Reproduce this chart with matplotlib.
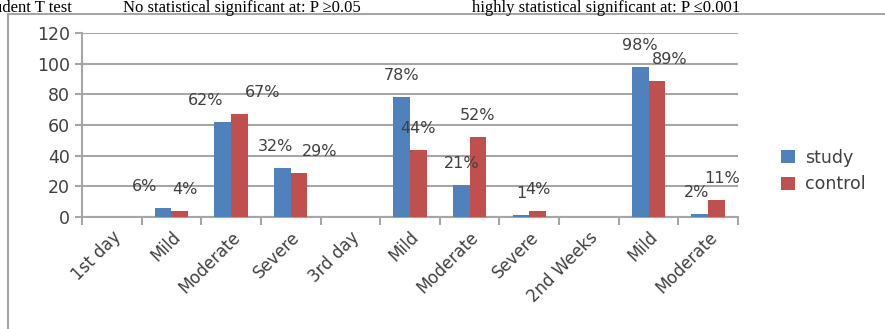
import matplotlib.pyplot as plt
import matplotlib.transforms as mtransforms
import numpy as np
from matplotlib.patches import Rectangle

plt.rcParams['font.family'] = ['DejaVu Sans']

categories = ['1st day', 'Mild', 'Moderate', 'Severe', '3rd day', 'Mild',
              'Moderate', 'Severe', '2nd Weeks', 'Mild', 'Moderate']
study = [0, 6, 62, 32, 0, 78, 21, 1, 0, 98, 2]
control = [0, 4, 67, 29, 0, 44, 52, 4, 0, 89, 11]
study_labels = ['', '6%', '62%', '32%', '', '78%', '21%', '1', '', '98%', '2%']
control_labels = ['', '4%', '67%', '29%', '', '44%', '52%', '4%', '', '89%', '11%']

# small sideways nudges of the data labels (points), as in the original
study_dx = [0, -13, -12, -5, 0, 0, 0, 0, 0, 0, -2]
control_dx = [0, 4, 17, 15, 0, 0, 0, 0, 0, 9, 4]

blue = '#4F81BD'
red = '#C0504D'
grey = '#404040'

fig = plt.figure(figsize=(8.85, 3.29), dpi=100)
fig.patches.append(Rectangle((8 / 885, -0.1), 1.0, 1 - 14 / 329 + 0.1,
                             transform=fig.transFigure, fill=False,
                             edgecolor='#A6A6A6', linewidth=1.5))

ax = fig.add_axes([82 / 885, 1 - 217 / 329, (738 - 82) / 885, (217 - 33) / 329])

x = np.arange(len(categories))
width = 0.28
b1 = ax.bar(x - width / 2, study, width, color=blue, label='study', zorder=3)
b2 = ax.bar(x + width / 2, control, width, color=red, label='control', zorder=3)

for i in range(len(categories)):
    if study_labels[i]:
        ax.annotate(study_labels[i], (x[i] - width / 2, study[i] + 14),
                    xytext=(study_dx[i], 0), textcoords='offset points',
                    ha='center', va='center', fontsize=11.5, color=grey)
    if control_labels[i]:
        ax.annotate(control_labels[i], (x[i] + width / 2, control[i] + 14),
                    xytext=(control_dx[i], 0), textcoords='offset points',
                    ha='center', va='center', fontsize=11.5, color=grey)

ax.set_xlim(-0.5, len(categories) - 0.5)
ax.set_ylim(0, 120)
ax.set_yticks(range(0, 121, 20))
ax.tick_params(axis='y', labelsize=12.5, labelcolor=grey, color='#A6A6A6',
               length=5, width=1.5)
ax.set_xticks(x, categories, rotation=45, ha='right', rotation_mode='anchor',
              fontsize=12, color=grey)
shift = mtransforms.ScaledTranslation(10 / 100, 0, fig.dpi_scale_trans)
for lab in ax.get_xticklabels():
    lab.set_transform(lab.get_transform() + shift)
ax.set_xticks(np.arange(-0.5, len(categories), 1), minor=True)
ax.tick_params(axis='x', which='major', length=0, pad=8)
ax.tick_params(axis='x', which='minor', length=6, width=1.5, color='#A6A6A6')
ax.grid(axis='y', color='#A6A6A6', linewidth=1.5, zorder=0)
for s in ['top', 'right']:
    ax.spines[s].set_visible(False)
for s in ['left', 'bottom']:
    ax.spines[s].set_color('#A6A6A6')
    ax.spines[s].set_linewidth(1.5)

fig.legend(handles=[b1, b2], loc='center left', bbox_to_anchor=(0.865, 0.48),
           frameon=False, fontsize=12.5, handlelength=0.8, handleheight=0.8,
           handletextpad=0.6, labelcolor=grey)

top_font = dict(family='Liberation Serif', fontsize=12, va='baseline')
fig.text(72 / 885, 1 - 11.5 / 329, 'Student T test', ha='right', **top_font)
fig.text(123 / 885, 1 - 11.5 / 329, 'No statistical significant at: P \u22650.05',
         ha='left', **top_font)
fig.text(472 / 885, 1 - 11.5 / 329, 'highly statistical significant at: P \u22640.001',
         ha='left', **top_font)

fig.savefig('out.png', dpi=100)
